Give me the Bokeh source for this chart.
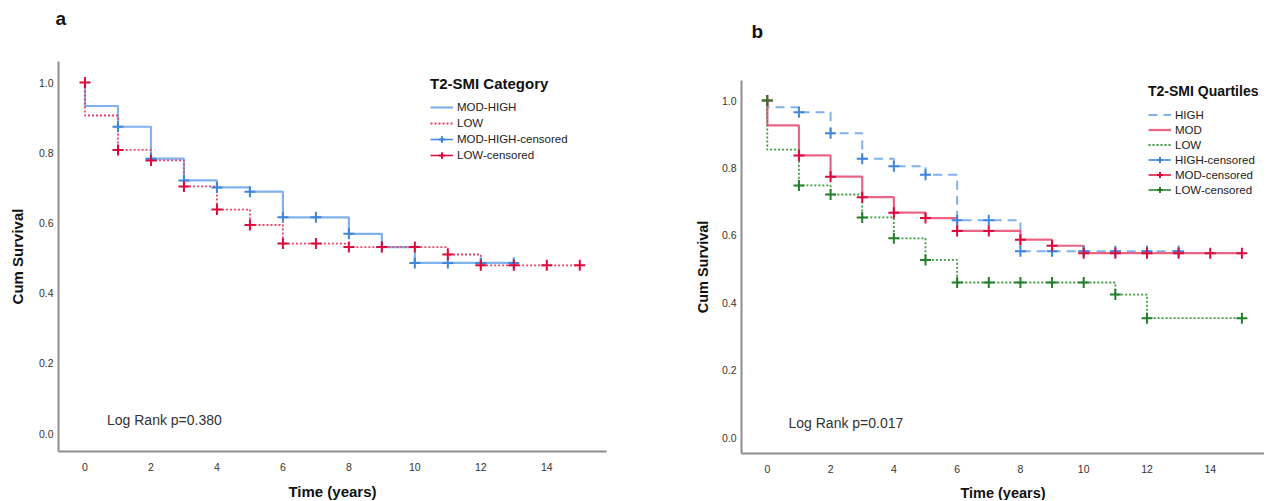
from bokeh.plotting import figure
from bokeh.models import (Range1d, FixedTicker, Label, Legend, LegendItem,
                          PrintfTickFormatter, LinearAxis)
from bokeh.embed import file_html
from bokeh.resources import INLINE

# ---------------- Data: panel a (T2-SMI Category) ----------------
a_modhigh_t = [0, 0, 1, 2, 3, 4, 5, 6, 8, 9, 10, 13]
a_modhigh_s = [1.0, 0.933, 0.874, 0.783, 0.721, 0.701, 0.689, 0.616, 0.569, 0.531, 0.486, 0.486]
a_modhigh_cens_t = [1, 2, 3, 4, 5, 6, 7, 8, 9, 10, 11, 12, 13]
a_modhigh_cens_s = [0.874, 0.783, 0.721, 0.701, 0.689, 0.616, 0.616, 0.569, 0.531, 0.486, 0.486, 0.486, 0.486]

a_low_t = [0, 0, 1, 2, 3, 4, 5, 6, 8, 11, 12, 15]
a_low_s = [1.0, 0.906, 0.808, 0.778, 0.704, 0.638, 0.594, 0.541, 0.531, 0.510, 0.479, 0.479]
a_low_cens_t = [0, 1, 2, 3, 4, 5, 6, 7, 8, 9, 10, 11, 12, 13, 14, 15]
a_low_cens_s = [1.0, 0.808, 0.778, 0.704, 0.638, 0.594, 0.541, 0.541, 0.531, 0.531, 0.531, 0.510, 0.479, 0.479, 0.479, 0.479]

# ---------------- Data: panel b (T2-SMI Quartiles) ----------------
b_high_t = [0, 0, 1, 2, 3, 4, 5, 6, 8, 13]
b_high_s = [1.0, 0.980, 0.965, 0.903, 0.827, 0.805, 0.780, 0.645, 0.553, 0.553]
b_high_cens_t = [1, 2, 3, 4, 5, 6, 7, 8, 9, 10, 11, 12, 13]
b_high_cens_s = [0.965, 0.903, 0.827, 0.805, 0.780, 0.645, 0.645, 0.553, 0.553, 0.553, 0.553, 0.553, 0.553]

b_mod_t = [0, 0, 1, 2, 3, 4, 5, 6, 8, 9, 10, 15]
b_mod_s = [1.0, 0.926, 0.837, 0.774, 0.713, 0.667, 0.651, 0.613, 0.587, 0.569, 0.547, 0.547]
b_mod_cens_t = [0, 1, 2, 3, 4, 5, 6, 7, 8, 9, 10, 11, 12, 13, 14, 15]
b_mod_cens_s = [1.0, 0.837, 0.774, 0.713, 0.667, 0.651, 0.613, 0.613, 0.587, 0.569, 0.547, 0.547, 0.547, 0.547, 0.547, 0.547]

b_low_t = [0, 0, 1, 2, 3, 4, 5, 6, 11, 12, 15]
b_low_s = [1.0, 0.854, 0.748, 0.721, 0.653, 0.591, 0.527, 0.460, 0.424, 0.354, 0.354]
b_low_cens_t = [0, 1, 2, 3, 4, 5, 6, 7, 8, 9, 10, 11, 12, 15]
b_low_cens_s = [1.0, 0.748, 0.721, 0.653, 0.591, 0.527, 0.460, 0.460, 0.460, 0.460, 0.460, 0.424, 0.354, 0.354]

x_ticks = [0, 2, 4, 6, 8, 10, 12, 14]
y_ticks = [0.0, 0.2, 0.4, 0.6, 0.8, 1.0]

FONT = "Liberation Sans"
AXIS_GREY = "#8e8e8e"
BLUE_LINE = "#6aa4ea"
BLUE_MARK = "#3d86da"
RED_LINE = "#e8436a"
RED_LINE_B = "#e85478"
RED_MARK = "#dc0b3b"
GREEN_LINE = "#3f9c3f"
GREEN_MARK = "#22802a"

W, H = 1264, 500          # canvas size in page pixels

# panel a scale: year 0 at x=84.5, 32.985 px/yr ; y=1 at 82, y=0 at 433 (page px)
ax0, axs = 84.5, 32.985
ay0, ays = 433.0, 351.0
# panel b scale: year 0 at x=766.8, 31.64 px/yr ; y=1 at 100, y=0 at 437
bx0, bxs = 766.8, 31.64
by0, bys = 437.0, 337.0

p = figure(width=W, height=H, title=None, toolbar_location=None, output_backend="svg",
           x_axis_type=None, y_axis_type=None, min_border=0,
           x_range=Range1d(-ax0 / axs, (W - ax0) / axs),
           y_range=Range1d(-(H - ay0) / ays, ay0 / ays))
p.extra_x_ranges = {"b": Range1d(-bx0 / bxs, (W - bx0) / bxs)}
p.extra_y_ranges = {"b": Range1d(-(H - by0) / bys, by0 / bys)}
p.outline_line_color = None
p.background_fill_color = "white"
p.border_fill_color = "white"


def px_a(cx, cy):
    return (cx - ax0) / axs, (ay0 - cy) / ays


def px_b(cx, cy):
    return (cx - bx0) / bxs, (by0 - cy) / bys


def style_axis(ax, tick_standoff, label_standoff, label_size):
    ax.axis_line_color = AXIS_GREY
    ax.axis_line_width = 2
    ax.major_tick_line_color = None
    ax.minor_tick_line_color = None
    ax.major_tick_out = 0
    ax.major_tick_in = 0
    ax.minor_tick_out = 0
    ax.minor_tick_in = 0
    ax.major_label_text_font = FONT
    ax.major_label_text_font_size = "10.5px"
    ax.major_label_text_color = "#333333"
    ax.major_label_standoff = tick_standoff
    ax.axis_label_text_font = FONT
    ax.axis_label_text_font_style = "bold"
    ax.axis_label_text_font_size = label_size
    ax.axis_label_text_color = "#111111"
    ax.axis_label_standoff = label_standoff


# ---- axes of panel a (plot box: left x=58, top y=61, bottom y=451, right x=606)
xa_l, ya_t = px_a(58, 61)
xa_r, ya_b = px_a(606, 451)
a_y_axis = LinearAxis(fixed_location=xa_l, bounds=(ya_b, ya_t),
                      ticker=FixedTicker(ticks=y_ticks), formatter=PrintfTickFormatter(format="%.1f"),
                      axis_label="Cum Survival")
a_x_axis = LinearAxis(fixed_location=ya_b, bounds=(xa_l, xa_r),
                      ticker=FixedTicker(ticks=x_ticks), axis_label="Time (years)")
style_axis(a_y_axis, 5, 10, "15px")
style_axis(a_x_axis, 11, 9, "15px")
p.add_layout(a_y_axis, "left")
p.add_layout(a_x_axis, "below")

# ---- axes of panel b (plot box: left x=741, top y=80, bottom y=453, right edge)
xb_l, yb_t = px_b(741, 80)
xb_r, yb_b = px_b(W, 453)
b_y_axis = LinearAxis(x_range_name="b", y_range_name="b", fixed_location=xb_l,
                      bounds=(yb_b, yb_t), ticker=FixedTicker(ticks=y_ticks),
                      formatter=PrintfTickFormatter(format="%.1f"), axis_label="Cum Survival")
b_x_axis = LinearAxis(x_range_name="b", y_range_name="b", fixed_location=yb_b,
                      bounds=(xb_l, xb_r), ticker=FixedTicker(ticks=x_ticks),
                      axis_label="Time (years)")
style_axis(b_y_axis, 5, 8, "14.5px")
style_axis(b_x_axis, 11, 9, "14.5px")
p.add_layout(b_y_axis, "left")
p.add_layout(b_x_axis, "below")

# ---------------- Panel a curves ----------------
ra1 = p.step(a_modhigh_t, a_modhigh_s, mode="after", line_color=BLUE_LINE,
             line_width=2.2, line_alpha=0.85)
ra2 = p.step(a_low_t, a_low_s, mode="after", line_color=RED_LINE,
             line_width=1.8, line_dash="2 2")
ra3 = p.scatter(a_modhigh_cens_t, a_modhigh_cens_s, marker="cross", size=11,
                line_color=BLUE_MARK, line_width=2)
ra4 = p.scatter(a_low_cens_t, a_low_cens_s, marker="cross", size=11,
                line_color=RED_MARK, line_width=2)

# ---------------- Panel b curves ----------------
kb = dict(x_range_name="b", y_range_name="b")
rb1 = p.step(b_high_t, b_high_s, mode="after", line_color=BLUE_LINE,
             line_width=2, line_dash="9 6", line_alpha=0.85, **kb)
rb2 = p.step(b_mod_t, b_mod_s, mode="after", line_color=RED_LINE_B,
             line_width=2.2, line_alpha=0.9, **kb)
rb3 = p.step(b_low_t, b_low_s, mode="after", line_color=GREEN_LINE,
             line_width=1.8, line_dash="2 2", **kb)
rb4 = p.scatter(b_high_cens_t, b_high_cens_s, marker="cross", size=11,
                line_color=BLUE_MARK, line_width=2, **kb)
rb5 = p.scatter(b_mod_cens_t, b_mod_cens_s, marker="cross", size=11,
                line_color=RED_MARK, line_width=2, **kb)
rb6 = p.scatter(b_low_cens_t, b_low_cens_s, marker="cross", size=11,
                line_color=GREEN_MARK, line_width=2, **kb)


# legend-only line swatches (a single undrawable NaN point), so that a
# "censored" key shows a line crossed by a tick as in the original
def key_line(color):
    return p.line(x=[float("nan")], y=[float("nan")], line_color=color, line_width=1.5)


ka3, ka4 = key_line(BLUE_MARK), key_line(RED_MARK)
kb4, kb5, kb6 = key_line(BLUE_MARK), key_line(RED_MARK), key_line(GREEN_MARK)

# ---------------- Legends ----------------
leg_a = Legend(items=[
    LegendItem(label="MOD-HIGH", renderers=[ra1]),
    LegendItem(label="LOW", renderers=[ra2]),
    LegendItem(label="MOD-HIGH-censored", renderers=[ka3, ra3]),
    LegendItem(label="LOW-censored", renderers=[ka4, ra4]),
], location=(430, H - 162.5), title="T2-SMI Category")
leg_b = Legend(items=[
    LegendItem(label="HIGH", renderers=[rb1]),
    LegendItem(label="MOD", renderers=[rb2]),
    LegendItem(label="LOW", renderers=[rb3]),
    LegendItem(label="HIGH-censored", renderers=[kb4, rb4]),
    LegendItem(label="MOD-censored", renderers=[kb5, rb5]),
    LegendItem(label="LOW-censored", renderers=[kb6, rb6]),
], location=(1148, H - 197), title="T2-SMI Quartiles")

for leg, lh, tsize, tst in ((leg_a, 16, "15px", 7), (leg_b, 15, "14px", 8)):
    leg.label_text_font = FONT
    leg.label_text_font_size = "11.5px"
    leg.label_text_color = "#222222"
    leg.label_height = lh
    leg.glyph_height = lh
    leg.glyph_width = 23
    leg.label_standoff = 4
    leg.spacing = 0
    leg.padding = 0
    leg.margin = 0
    leg.border_line_color = None
    leg.background_fill_alpha = 0
    leg.title_text_font = FONT
    leg.title_text_font_style = "bold"
    leg.title_text_font_size = tsize
    leg.title_text_color = "#111111"
    leg.title_standoff = tst
    p.add_layout(leg)

# ---------------- Panel letters and log-rank notes ----------------
lx, ly = px_a(55, 18)
p.add_layout(Label(x=lx, y=ly, text="a", text_font=FONT, text_font_style="bold",
                   text_font_size="19px", text_baseline="middle", text_color="#111111"))
lx, ly = px_a(106.5, 419)
p.add_layout(Label(x=lx, y=ly, text="Log Rank p=0.380", text_font=FONT,
                   text_font_size="14px", text_baseline="middle", text_color="#333333"))

lx, ly = px_b(751, 31)
p.add_layout(Label(x=lx, y=ly, text="b", text_font=FONT, text_font_style="bold",
                   text_font_size="19px", text_baseline="middle", text_color="#111111", **kb))
lx, ly = px_b(788, 422)
p.add_layout(Label(x=lx, y=ly, text="Log Rank p=0.017", text_font=FONT,
                   text_font_size="14px", text_baseline="middle", text_color="#333333", **kb))

open("out.html", "w").write(file_html(p, INLINE))
